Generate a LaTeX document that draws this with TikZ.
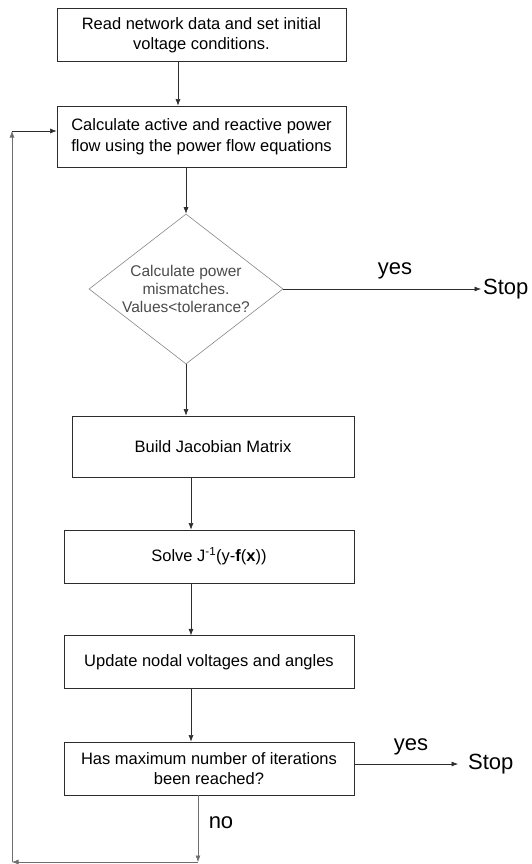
\documentclass[tikz,border=0pt]{standalone}
\usepackage{fontspec}
\setmainfont{Liberation Sans}
\usepackage{tikz}
\usetikzlibrary{calc}
\usetikzlibrary{arrows.meta}
\usetikzlibrary{shapes.geometric}

\definecolor{boxLine}{RGB}{45,45,45}
\definecolor{diaLine}{RGB}{135,135,135}
\definecolor{diaText}{RGB}{75,75,75}
\definecolor{loopLine}{RGB}{110,110,110}

\begin{document}
\begin{tikzpicture}[x=1pt,y=-1pt]
			\begin{scope}[>={Latex[length=6.5pt,width=5pt]}] %filled arrow tips
			\useasboundingbox (0,0) rectangle (531,864);
			\newcommand{\boxFont}{\fontsize{16.5}{20.5}\selectfont}
			\newcommand{\diaFont}{\fontsize{15.5}{18}\selectfont}
			\newcommand{\labelFont}{\fontsize{22}{26}\selectfont}
			
			\pgfmathsetmacro\wideBox{(290)}
			\pgfmathsetmacro\lowBox{(52.5)}
			
			% upper two boxes
			\node (readData) at (201.5, 35) [draw=boxLine,thick,minimum width=289pt, minimum height=\lowBox pt,align=center,font=\boxFont] {Read network data and set initial\\voltage conditions.};
			\node (calcFlow) at (201.5, 136.5) [draw=boxLine,thick,minimum width=289pt, minimum height=61pt,align=center,font=\boxFont] {Calculate active and reactive power\\flow using the power flow equations};
			
			\draw[->,semithick,boxLine] ([xshift=-23.5pt]readData.south) -- ([xshift=-23.5pt]calcFlow.north);
			
			% mismatch test
			\node (mismatch)[diamond, draw=diaLine, semithick, aspect=1.29, minimum width=194pt, minimum height=150pt, inner sep=0pt, align=center, font=\diaFont, text=diaText] at (186, 289) {Calculate power\\mismatches.\\Values<tolerance?};
			\draw[->,semithick,boxLine] (calcFlow.south -| mismatch.north) -- (mismatch.north);
			
			\node (stopA)[anchor=west, inner sep=2pt, font=\labelFont] at (481, 289) {Stop};
			\node (yesA)[font=\labelFont] at (395, 271) {yes};
			\draw[->,semithick,boxLine] (mismatch.east) -- (stopA.west);
			
			% newton steps
			\node (jacobian) at (213, 446.5) [draw=boxLine,thick,minimum width=282pt, minimum height=61pt,font=\boxFont] {Build Jacobian Matrix};
			\node (solveJ) at (209, 556.5) [draw=boxLine,thick,minimum width=\wideBox pt, minimum height=53pt,font=\boxFont] {Solve J\textsuperscript{-1}(y-\textbf{f}(\textbf{x}))};
			\node (update) at (209, 662) [draw=boxLine,thick,minimum width=\wideBox pt, minimum height=\lowBox pt,font=\boxFont] {Update nodal voltages and angles};
			\node (maxIter) at (209, 768.5) [draw=boxLine,thick,minimum width=\wideBox pt, minimum height=53pt,align=center,font=\boxFont] {Has maximum number of iterations\\been reached?};
			
			\draw[->,semithick,boxLine] (mismatch.south) -- (mismatch.south |- jacobian.north);
			\draw[->,semithick,boxLine] ([xshift=-22pt]jacobian.south) -- ([xshift=-22pt]jacobian.south |- solveJ.north);
			\draw[->,semithick,boxLine] ([xshift=-18pt]solveJ.south) -- ([xshift=-18pt]update.north);
			\draw[->,semithick,boxLine] ([xshift=-18pt]update.south) -- ([xshift=-18pt]maxIter.north);
			
			\node (stopB)[anchor=west, inner sep=2pt, font=\labelFont] at (466, 764) {Stop};
			\node (yesB)[font=\labelFont] at (411, 747) {yes};
			\draw[->,semithick,boxLine] ([yshift=4.5pt]maxIter.east) -- ([xshift=-8pt]stopB.west);
			
			%loop back when no
			\node (noText)[font=\labelFont] at (221, 823) {no};
			\coordinate (loopA) at (198, 862);
			\coordinate (loopB) at (12, 862);
			\coordinate (loopC) at (12, 131);
			\draw[->,semithick,loopLine] ([xshift=-11pt]maxIter.south) -- (loopA);
			\draw[->,semithick,loopLine] (loopA) -- (loopB);
			\draw[->,semithick,loopLine] (loopB) -- (loopC);
			\draw[->,semithick,boxLine] (loopC) -- ([yshift=5.5pt]calcFlow.west);
			
			\end{scope}
\end{tikzpicture}
\end{document}
